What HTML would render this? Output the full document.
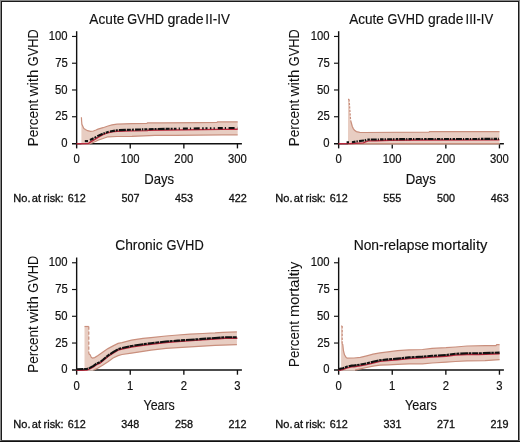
<!DOCTYPE html>
<html><head><meta charset="utf-8"><title>GVHD cumulative incidence</title>
<style>
html,body{margin:0;padding:0;background:#fff;}
body{width:520px;height:442px;overflow:hidden;}
svg{display:block;will-change:transform;}
</style></head>
<body>
<svg width="520" height="442" viewBox="0 0 520 442" font-family='"Liberation Sans", sans-serif'>
<rect x="0" y="0" width="520" height="442" fill="#fff"/>
<g stroke="#111" fill="none">
<path d="M76.65,31.20V148.40" stroke-width="1.4"/>
<path d="M72.00,143.75H241.90" stroke-width="1.5"/>
<path d="M72.00,116.74H76.65" stroke-width="1.15"/>
<path d="M72.00,89.98H76.65" stroke-width="1.15"/>
<path d="M72.00,63.22H76.65" stroke-width="1.15"/>
<path d="M72.00,36.46H76.65" stroke-width="1.15"/>
<path d="M130.25,143.75V148.40" stroke-width="1.35"/>
<path d="M183.85,143.75V148.40" stroke-width="1.35"/>
<path d="M237.45,143.75V148.40" stroke-width="1.35"/>
</g>
<polygon points="81.4,144.5 81.4,117.3 81.6,121.0 81.9,124.3 82.8,126.3 83.8,128.4 85.4,129.6 87.6,130.7 90.5,131.4 93.4,131.0 96.0,130.0 98.0,129.1 103.0,127.7 108.0,126.0 112.0,124.9 117.0,124.2 132.0,123.6 147.0,123.3 147.5,122.9 161.0,122.9 200.0,122.6 217.0,122.4 217.5,121.9 237.7,121.8 237.7,134.8 222.0,134.8 176.0,135.3 155.0,135.4 132.0,136.3 117.0,136.5 108.0,136.8 103.0,138.5 98.0,140.3 96.0,141.3 92.0,143.0 89.5,143.6 89.5,144.5" fill="#e8cdc2" stroke="none"/>
<polyline points="81.4,117.3 81.6,121.0 81.9,124.3 82.8,126.3 83.8,128.4 85.4,129.6 87.6,130.7 90.5,131.4 93.4,131.0 96.0,130.0 98.0,129.1 103.0,127.7 108.0,126.0 112.0,124.9 117.0,124.2 132.0,123.6 147.0,123.3 147.5,122.9 161.0,122.9 200.0,122.6 217.0,122.4 217.5,121.9 237.7,121.8" fill="none" stroke="#c98f7d" stroke-width="1.2"/>
<polyline points="237.7,134.8 222.0,134.8 176.0,135.3 155.0,135.4 132.0,136.3 117.0,136.5 108.0,136.8 103.0,138.5 98.0,140.3 96.0,141.3 92.0,143.0 89.5,143.6" fill="none" stroke="#c98f7d" stroke-width="1.2"/>
<polyline points="76.5,143.7 88.5,143.5 89.8,142.3 94.5,139.6 98.0,137.3 103.0,134.7 108.0,132.7 112.0,131.8 117.0,131.3 132.0,130.9 147.5,130.6 148.0,130.2 222.0,129.4 237.7,129.3" fill="none" stroke="#b8283c" stroke-width="1.4"/>
<polyline points="90.0,140.0 94.5,137.8 98.0,135.9 100.0,135.0 103.0,133.6 108.0,131.9 117.0,130.2 155.0,129.0 175.0,128.7" fill="none" stroke="#111" stroke-width="2.1" stroke-dasharray="4 1 2 1.2 6 0.8 1.5 1 3 1.3 5 0.9 2 1.1 7 1"/>
<polyline points="175.0,128.7 237.3,127.9" fill="none" stroke="#111" stroke-width="2.1" stroke-dasharray="1.5 2.2 1.2 3 5 2 1.2 2.6 6 2.5 1.5 1.8 2 2.4"/>
<polyline points="84.8,141.1 88.0,141.1" fill="none" stroke="#111" stroke-width="2.1"/>
<g stroke="#111" fill="none">
<path d="M338.65,31.20V148.40" stroke-width="1.4"/>
<path d="M334.00,143.75H503.90" stroke-width="1.5"/>
<path d="M334.00,116.74H338.65" stroke-width="1.15"/>
<path d="M334.00,89.98H338.65" stroke-width="1.15"/>
<path d="M334.00,63.22H338.65" stroke-width="1.15"/>
<path d="M334.00,36.46H338.65" stroke-width="1.15"/>
<path d="M392.25,143.75V148.40" stroke-width="1.35"/>
<path d="M445.85,143.75V148.40" stroke-width="1.35"/>
<path d="M499.45,143.75V148.40" stroke-width="1.35"/>
</g>
<polygon points="348.0,144.5 348.0,99.4 349.1,99.4 350.6,120.5 350.8,121.0 351.5,123.5 352.3,126.5 353.3,128.6 354.5,130.2 356.4,131.6 359.8,132.4 364.0,132.5 429.0,132.2 429.5,131.7 499.5,131.6 499.5,144.5 348.0,144.5" fill="#e8cdc2" stroke="none"/>
<polyline points="348.0,99.4 349.1,99.4" fill="none" stroke="#c98f7d" stroke-width="1.2"/>
<polyline points="349.1,99.4 350.6,120.5" fill="none" stroke="#c98f7d" stroke-width="1.2" stroke-dasharray="2.2 1.3"/>
<polyline points="350.6,120.5 350.8,121.0 351.5,123.5 352.3,126.5 353.3,128.6 354.5,130.2 356.4,131.6 359.8,132.4 364.0,132.5 429.0,132.2 429.5,131.7 499.5,131.6" fill="none" stroke="#c98f7d" stroke-width="1.2"/>
<polyline points="499.5,143.6 348.0,143.6" fill="none" stroke="#c98f7d" stroke-width="1.2"/>
<polyline points="338.5,143.7 351.0,143.5 363.5,142.9 365.5,141.9 368.4,140.9 376.0,140.7 390.0,140.3 420.0,140.0 499.5,139.9" fill="none" stroke="#b8283c" stroke-width="1.4"/>
<polyline points="352.0,142.2 356.0,141.5 365.0,140.4 366.5,139.6 376.0,139.5 390.0,139.2 420.0,139.0 499.0,138.9" fill="none" stroke="#111" stroke-width="2.1" stroke-dasharray="3.5 1.0 1.4 1.2 5.0 0.8 1.5 1.3 2.5 0.9 6.0 1.0 1.2 1.1"/>
<polyline points="346.6,142.3 349.0,142.3" fill="none" stroke="#111" stroke-width="2.1"/>
<g stroke="#111" fill="none">
<path d="M76.65,257.50V374.70" stroke-width="1.4"/>
<path d="M72.00,370.05H241.90" stroke-width="1.5"/>
<path d="M72.00,343.04H76.65" stroke-width="1.15"/>
<path d="M72.00,316.28H76.65" stroke-width="1.15"/>
<path d="M72.00,289.52H76.65" stroke-width="1.15"/>
<path d="M72.00,262.76H76.65" stroke-width="1.15"/>
<path d="M130.25,370.05V374.70" stroke-width="1.35"/>
<path d="M183.85,370.05V374.70" stroke-width="1.35"/>
<path d="M237.45,370.05V374.70" stroke-width="1.35"/>
</g>
<polygon points="84.5,370.8 84.5,326.5 88.8,326.5 88.8,353.7 90.2,354.8 91.3,357.4 92.4,358.0 94.7,357.6 98.0,355.6 103.0,352.0 108.0,348.6 113.1,345.9 118.1,343.4 122.0,342.6 131.5,340.1 143.0,338.4 151.0,337.6 166.0,336.0 178.0,335.0 190.0,334.2 202.6,333.5 215.0,332.9 223.0,332.3 236.9,331.9 236.9,344.7 215.0,345.4 202.6,346.2 190.3,346.9 178.0,347.6 166.0,348.3 151.0,350.1 143.0,351.4 131.5,353.2 122.0,354.5 118.1,355.6 113.1,358.0 108.0,361.8 103.0,365.1 98.0,368.0 93.6,370.1 93.6,370.8" fill="#e8cdc2" stroke="none"/>
<polyline points="84.5,326.5 88.8,326.5" fill="none" stroke="#c98f7d" stroke-width="1.2"/>
<polyline points="88.8,326.5 88.8,353.7" fill="none" stroke="#c98f7d" stroke-width="1.2" stroke-dasharray="3.2 1.8"/>
<polyline points="88.8,353.7 90.2,354.8 91.3,357.4 92.4,358.0 94.7,357.6 98.0,355.6 103.0,352.0 108.0,348.6 113.1,345.9 118.1,343.4 122.0,342.6 131.5,340.1 143.0,338.4 151.0,337.6 166.0,336.0 178.0,335.0 190.0,334.2 202.6,333.5 215.0,332.9 223.0,332.3 236.9,331.9" fill="none" stroke="#c98f7d" stroke-width="1.2"/>
<polyline points="236.9,344.7 215.0,345.4 202.6,346.2 190.3,346.9 178.0,347.6 166.0,348.3 151.0,350.1 143.0,351.4 131.5,353.2 122.0,354.5 118.1,355.6 113.1,358.0 108.0,361.8 103.0,365.1 98.0,368.0 93.6,370.1" fill="none" stroke="#c98f7d" stroke-width="1.2"/>
<polyline points="76.5,370.2 86.8,370.0 89.8,368.9 93.5,366.8 96.8,364.5 100.0,363.1 103.0,360.7 108.0,356.5 113.1,353.2 118.1,350.2 122.0,349.0 131.5,347.0 143.0,345.2 151.0,344.2 166.0,342.5 178.0,341.6 202.6,339.9 215.0,339.0 225.0,338.3 237.4,338.2" fill="none" stroke="#b8283c" stroke-width="1.4"/>
<polyline points="76.5,369.2 86.8,369.0 89.8,367.9 93.5,365.8 96.8,363.5 100.0,362.1 103.0,359.7 108.0,355.5 113.1,352.2 118.1,349.2 122.0,348.0 131.5,346.0 143.0,344.2 151.0,343.2 166.0,341.5 178.0,340.6 202.6,338.9 215.0,338.0 225.0,337.3 237.4,337.2" fill="none" stroke="#111" stroke-width="2.1" stroke-dasharray="7 0.6 4 0.8 9 0.6 3 0.9"/>
<g stroke="#111" fill="none">
<path d="M338.65,257.50V374.70" stroke-width="1.4"/>
<path d="M334.00,370.05H503.90" stroke-width="1.5"/>
<path d="M334.00,343.04H338.65" stroke-width="1.15"/>
<path d="M334.00,316.28H338.65" stroke-width="1.15"/>
<path d="M334.00,289.52H338.65" stroke-width="1.15"/>
<path d="M334.00,262.76H338.65" stroke-width="1.15"/>
<path d="M392.25,370.05V374.70" stroke-width="1.35"/>
<path d="M445.85,370.05V374.70" stroke-width="1.35"/>
<path d="M499.45,370.05V374.70" stroke-width="1.35"/>
</g>
<polygon points="341.1,370.8 341.1,326.0 342.2,326.0 342.2,343.5 342.8,344.6 343.4,350.3 344.5,354.8 346.2,357.6 347.3,358.2 354.0,358.0 360.3,357.4 366.7,355.8 373.0,354.2 380.0,352.9 388.0,351.9 397.5,350.7 409.0,349.9 422.5,349.5 432.0,348.4 446.0,347.7 455.5,347.0 467.0,346.0 485.0,345.7 496.0,345.6 496.7,344.7 499.6,344.7 499.6,359.6 485.0,360.7 467.0,360.8 455.5,361.5 446.0,362.2 432.1,363.0 422.5,363.8 409.0,363.9 397.5,364.3 388.0,364.8 380.0,365.2 373.0,366.2 366.7,367.5 360.3,368.8 355.0,370.1 355.0,370.8" fill="#e8cdc2" stroke="none"/>
<polyline points="341.1,326.0 342.2,326.0" fill="none" stroke="#c98f7d" stroke-width="1.2"/>
<polyline points="342.2,326.0 342.2,343.5" fill="none" stroke="#c98f7d" stroke-width="1.2" stroke-dasharray="2.6 1.2"/>
<polyline points="342.2,343.5 342.8,344.6 343.4,350.3 344.5,354.8 346.2,357.6 347.3,358.2 354.0,358.0 360.3,357.4 366.7,355.8 373.0,354.2 380.0,352.9 388.0,351.9 397.5,350.7 409.0,349.9 422.5,349.5 432.0,348.4 446.0,347.7 455.5,347.0 467.0,346.0 485.0,345.7 496.0,345.6 496.7,344.7 499.6,344.7" fill="none" stroke="#c98f7d" stroke-width="1.2"/>
<polyline points="499.6,359.6 485.0,360.7 467.0,360.8 455.5,361.5 446.0,362.2 432.1,363.0 422.5,363.8 409.0,363.9 397.5,364.3 388.0,364.8 380.0,365.2 373.0,366.2 366.7,367.5 360.3,368.8 355.0,370.1" fill="none" stroke="#c98f7d" stroke-width="1.2"/>
<polyline points="338.5,370.3 342.8,369.5 347.3,367.8 351.8,366.8 354.0,366.7 360.3,365.8 366.7,364.6 373.0,363.0 380.0,361.4 388.0,360.6 397.5,359.8 409.0,358.6 422.5,357.8 432.1,357.0 446.0,356.2 455.5,355.0 467.0,354.5 478.6,354.5 499.6,353.8" fill="none" stroke="#b8283c" stroke-width="1.4"/>
<polyline points="338.5,369.1 342.8,368.3 347.3,366.6 351.8,365.6 354.0,365.5 360.3,364.6 366.7,363.4 373.0,361.8 380.0,360.2 388.0,359.4 397.5,358.6 409.0,357.4 422.5,356.6 432.1,355.8 446.0,355.0 455.5,353.8 467.0,353.3 478.6,353.3 499.6,352.6" fill="none" stroke="#111" stroke-width="2.1" stroke-dasharray="6 0.7 3 0.9 8 0.6 2.5 0.8"/>
<g fill="#111">
<text x="89.37" y="23.80" font-size="14.5" textLength="34.94" lengthAdjust="spacingAndGlyphs" stroke="#111" stroke-width="0.15">Acute</text>
<text x="127.16" y="23.80" font-size="14.5" textLength="36.83" lengthAdjust="spacingAndGlyphs" stroke="#111" stroke-width="0.15">GVHD</text>
<text x="167.40" y="23.80" font-size="14.5" textLength="36.31" lengthAdjust="spacingAndGlyphs" stroke="#111" stroke-width="0.15">grade</text>
<text x="205.26" y="23.80" font-size="14.5" textLength="24.59" lengthAdjust="spacingAndGlyphs" stroke="#111" stroke-width="0.15">II-IV</text>
<text transform="translate(37.70,0) rotate(-90)" x="-146.31" y="0" font-size="14.5" textLength="46.43" lengthAdjust="spacingAndGlyphs" stroke="#111" stroke-width="0.05">Percent</text>
<text transform="translate(37.70,0) rotate(-90)" x="-96.56" y="0" font-size="14.5" textLength="27.03" lengthAdjust="spacingAndGlyphs" stroke="#111" stroke-width="0.05">with</text>
<text transform="translate(37.70,0) rotate(-90)" x="-66.14" y="0" font-size="14.5" textLength="36.83" lengthAdjust="spacingAndGlyphs" stroke="#111" stroke-width="0.05">GVHD</text>
<text x="144.22" y="183.70" font-size="14.1" textLength="29.85" lengthAdjust="spacingAndGlyphs" stroke="#111" stroke-width="0.15">Days</text>
<text x="61.36" y="147.10" font-size="12" textLength="6.27" lengthAdjust="spacingAndGlyphs" stroke="#111" stroke-width="0.2">0</text>
<text x="55.13" y="120.34" font-size="12" textLength="12.55" lengthAdjust="spacingAndGlyphs" stroke="#111" stroke-width="0.2">25</text>
<text x="55.10" y="93.58" font-size="12" textLength="12.55" lengthAdjust="spacingAndGlyphs" stroke="#111" stroke-width="0.2">50</text>
<text x="55.13" y="66.82" font-size="12" textLength="12.55" lengthAdjust="spacingAndGlyphs" stroke="#111" stroke-width="0.2">75</text>
<text x="48.81" y="40.06" font-size="12" textLength="18.82" lengthAdjust="spacingAndGlyphs" stroke="#111" stroke-width="0.2">100</text>
<text x="73.51" y="163.20" font-size="12" textLength="6.27" lengthAdjust="spacingAndGlyphs" stroke="#111" stroke-width="0.2">0</text>
<text x="120.63" y="163.20" font-size="12" textLength="18.82" lengthAdjust="spacingAndGlyphs" stroke="#111" stroke-width="0.2">100</text>
<text x="174.37" y="163.20" font-size="12" textLength="18.82" lengthAdjust="spacingAndGlyphs" stroke="#111" stroke-width="0.2">200</text>
<text x="228.05" y="163.20" font-size="12" textLength="18.82" lengthAdjust="spacingAndGlyphs" stroke="#111" stroke-width="0.2">300</text>
<text x="13.39" y="201.60" font-size="10.5" textLength="17.22" lengthAdjust="spacingAndGlyphs" stroke="#111" stroke-width="0.3">No.</text>
<text x="31.73" y="201.60" font-size="10.5" textLength="9.27" lengthAdjust="spacingAndGlyphs" stroke="#111" stroke-width="0.3">at</text>
<text x="43.59" y="201.60" font-size="10.5" textLength="20.00" lengthAdjust="spacingAndGlyphs" stroke="#111" stroke-width="0.3">risk:</text>
<text x="67.75" y="201.80" font-size="10.8" textLength="18.02" lengthAdjust="spacingAndGlyphs" stroke="#111" stroke-width="0.3">612</text>
<text x="121.40" y="201.80" font-size="10.8" textLength="18.02" lengthAdjust="spacingAndGlyphs" stroke="#111" stroke-width="0.3">507</text>
<text x="175.05" y="201.80" font-size="10.8" textLength="18.02" lengthAdjust="spacingAndGlyphs" stroke="#111" stroke-width="0.3">453</text>
<text x="228.69" y="201.80" font-size="10.8" textLength="18.02" lengthAdjust="spacingAndGlyphs" stroke="#111" stroke-width="0.3">422</text>
</g>
<g fill="#111">
<text x="349.17" y="23.80" font-size="14.5" textLength="34.74" lengthAdjust="spacingAndGlyphs" stroke="#111" stroke-width="0.15">Acute</text>
<text x="387.46" y="23.80" font-size="14.5" textLength="36.73" lengthAdjust="spacingAndGlyphs" stroke="#111" stroke-width="0.15">GVHD</text>
<text x="428.01" y="23.80" font-size="14.5" textLength="35.38" lengthAdjust="spacingAndGlyphs" stroke="#111" stroke-width="0.15">grade</text>
<text x="465.59" y="23.80" font-size="14.5" textLength="27.56" lengthAdjust="spacingAndGlyphs" stroke="#111" stroke-width="0.15">III-IV</text>
<text transform="translate(299.30,0) rotate(-90)" x="-146.31" y="0" font-size="14.5" textLength="46.43" lengthAdjust="spacingAndGlyphs" stroke="#111" stroke-width="0.05">Percent</text>
<text transform="translate(299.30,0) rotate(-90)" x="-96.56" y="0" font-size="14.5" textLength="27.03" lengthAdjust="spacingAndGlyphs" stroke="#111" stroke-width="0.05">with</text>
<text transform="translate(299.30,0) rotate(-90)" x="-66.14" y="0" font-size="14.5" textLength="36.83" lengthAdjust="spacingAndGlyphs" stroke="#111" stroke-width="0.05">GVHD</text>
<text x="405.71" y="183.70" font-size="14.1" textLength="30.06" lengthAdjust="spacingAndGlyphs" stroke="#111" stroke-width="0.15">Days</text>
<text x="323.36" y="147.10" font-size="12" textLength="6.27" lengthAdjust="spacingAndGlyphs" stroke="#111" stroke-width="0.2">0</text>
<text x="317.13" y="120.34" font-size="12" textLength="12.55" lengthAdjust="spacingAndGlyphs" stroke="#111" stroke-width="0.2">25</text>
<text x="317.10" y="93.58" font-size="12" textLength="12.55" lengthAdjust="spacingAndGlyphs" stroke="#111" stroke-width="0.2">50</text>
<text x="317.13" y="66.82" font-size="12" textLength="12.55" lengthAdjust="spacingAndGlyphs" stroke="#111" stroke-width="0.2">75</text>
<text x="310.81" y="40.06" font-size="12" textLength="18.82" lengthAdjust="spacingAndGlyphs" stroke="#111" stroke-width="0.2">100</text>
<text x="335.51" y="163.20" font-size="12" textLength="6.27" lengthAdjust="spacingAndGlyphs" stroke="#111" stroke-width="0.2">0</text>
<text x="382.63" y="163.20" font-size="12" textLength="18.82" lengthAdjust="spacingAndGlyphs" stroke="#111" stroke-width="0.2">100</text>
<text x="436.37" y="163.20" font-size="12" textLength="18.82" lengthAdjust="spacingAndGlyphs" stroke="#111" stroke-width="0.2">200</text>
<text x="490.05" y="163.20" font-size="12" textLength="18.82" lengthAdjust="spacingAndGlyphs" stroke="#111" stroke-width="0.2">300</text>
<text x="275.39" y="201.60" font-size="10.5" textLength="17.22" lengthAdjust="spacingAndGlyphs" stroke="#111" stroke-width="0.3">No.</text>
<text x="293.73" y="201.60" font-size="10.5" textLength="9.27" lengthAdjust="spacingAndGlyphs" stroke="#111" stroke-width="0.3">at</text>
<text x="305.59" y="201.60" font-size="10.5" textLength="20.00" lengthAdjust="spacingAndGlyphs" stroke="#111" stroke-width="0.3">risk:</text>
<text x="329.75" y="201.80" font-size="10.8" textLength="18.02" lengthAdjust="spacingAndGlyphs" stroke="#111" stroke-width="0.3">612</text>
<text x="383.35" y="201.80" font-size="10.8" textLength="18.02" lengthAdjust="spacingAndGlyphs" stroke="#111" stroke-width="0.3">555</text>
<text x="436.93" y="201.80" font-size="10.8" textLength="18.02" lengthAdjust="spacingAndGlyphs" stroke="#111" stroke-width="0.3">500</text>
<text x="490.65" y="201.80" font-size="10.8" textLength="18.02" lengthAdjust="spacingAndGlyphs" stroke="#111" stroke-width="0.3">463</text>
</g>
<g fill="#111">
<text x="115.31" y="250.00" font-size="14.5" textLength="47.38" lengthAdjust="spacingAndGlyphs" stroke="#111" stroke-width="0.15">Chronic</text>
<text x="166.56" y="250.00" font-size="14.5" textLength="37.14" lengthAdjust="spacingAndGlyphs" stroke="#111" stroke-width="0.15">GVHD</text>
<text transform="translate(37.70,0) rotate(-90)" x="-372.81" y="0" font-size="14.5" textLength="46.43" lengthAdjust="spacingAndGlyphs" stroke="#111" stroke-width="0.05">Percent</text>
<text transform="translate(37.70,0) rotate(-90)" x="-323.06" y="0" font-size="14.5" textLength="27.03" lengthAdjust="spacingAndGlyphs" stroke="#111" stroke-width="0.05">with</text>
<text transform="translate(37.70,0) rotate(-90)" x="-292.64" y="0" font-size="14.5" textLength="36.83" lengthAdjust="spacingAndGlyphs" stroke="#111" stroke-width="0.05">GVHD</text>
<text x="143.52" y="409.60" font-size="14.1" textLength="31.32" lengthAdjust="spacingAndGlyphs" stroke="#111" stroke-width="0.15">Years</text>
<text x="61.36" y="373.40" font-size="12" textLength="6.27" lengthAdjust="spacingAndGlyphs" stroke="#111" stroke-width="0.2">0</text>
<text x="55.13" y="346.64" font-size="12" textLength="12.55" lengthAdjust="spacingAndGlyphs" stroke="#111" stroke-width="0.2">25</text>
<text x="55.10" y="319.88" font-size="12" textLength="12.55" lengthAdjust="spacingAndGlyphs" stroke="#111" stroke-width="0.2">50</text>
<text x="55.13" y="293.12" font-size="12" textLength="12.55" lengthAdjust="spacingAndGlyphs" stroke="#111" stroke-width="0.2">75</text>
<text x="48.81" y="266.36" font-size="12" textLength="18.82" lengthAdjust="spacingAndGlyphs" stroke="#111" stroke-width="0.2">100</text>
<text x="73.51" y="389.50" font-size="12" textLength="6.27" lengthAdjust="spacingAndGlyphs" stroke="#111" stroke-width="0.2">0</text>
<text x="126.96" y="389.50" font-size="12" textLength="6.27" lengthAdjust="spacingAndGlyphs" stroke="#111" stroke-width="0.2">1</text>
<text x="180.72" y="389.50" font-size="12" textLength="6.27" lengthAdjust="spacingAndGlyphs" stroke="#111" stroke-width="0.2">2</text>
<text x="234.35" y="389.50" font-size="12" textLength="6.27" lengthAdjust="spacingAndGlyphs" stroke="#111" stroke-width="0.2">3</text>
<text x="13.39" y="427.90" font-size="10.5" textLength="17.22" lengthAdjust="spacingAndGlyphs" stroke="#111" stroke-width="0.3">No.</text>
<text x="31.73" y="427.90" font-size="10.5" textLength="9.27" lengthAdjust="spacingAndGlyphs" stroke="#111" stroke-width="0.3">at</text>
<text x="43.59" y="427.90" font-size="10.5" textLength="20.00" lengthAdjust="spacingAndGlyphs" stroke="#111" stroke-width="0.3">risk:</text>
<text x="67.75" y="428.10" font-size="10.8" textLength="18.02" lengthAdjust="spacingAndGlyphs" stroke="#111" stroke-width="0.3">612</text>
<text x="121.37" y="428.10" font-size="10.8" textLength="18.02" lengthAdjust="spacingAndGlyphs" stroke="#111" stroke-width="0.3">348</text>
<text x="174.91" y="428.10" font-size="10.8" textLength="18.02" lengthAdjust="spacingAndGlyphs" stroke="#111" stroke-width="0.3">258</text>
<text x="228.55" y="428.10" font-size="10.8" textLength="18.02" lengthAdjust="spacingAndGlyphs" stroke="#111" stroke-width="0.3">212</text>
</g>
<g fill="#111">
<text x="353.66" y="250.00" font-size="14.5" textLength="75.43" lengthAdjust="spacingAndGlyphs" stroke="#111" stroke-width="0.15">Non-relapse</text>
<text x="431.71" y="250.00" font-size="14.5" textLength="55.64" lengthAdjust="spacingAndGlyphs" stroke="#111" stroke-width="0.15">mortality</text>
<text transform="translate(299.20,0) rotate(-90)" x="-367.00" y="0" font-size="14.5" textLength="46.02" lengthAdjust="spacingAndGlyphs" stroke="#111" stroke-width="0.05">Percent</text>
<text transform="translate(299.20,0) rotate(-90)" x="-316.99" y="0" font-size="14.5" textLength="55.24" lengthAdjust="spacingAndGlyphs" stroke="#111" stroke-width="0.05">mortaltiy</text>
<text x="405.02" y="409.60" font-size="14.1" textLength="31.83" lengthAdjust="spacingAndGlyphs" stroke="#111" stroke-width="0.15">Years</text>
<text x="323.36" y="373.40" font-size="12" textLength="6.27" lengthAdjust="spacingAndGlyphs" stroke="#111" stroke-width="0.2">0</text>
<text x="317.13" y="346.64" font-size="12" textLength="12.55" lengthAdjust="spacingAndGlyphs" stroke="#111" stroke-width="0.2">25</text>
<text x="317.10" y="319.88" font-size="12" textLength="12.55" lengthAdjust="spacingAndGlyphs" stroke="#111" stroke-width="0.2">50</text>
<text x="317.13" y="293.12" font-size="12" textLength="12.55" lengthAdjust="spacingAndGlyphs" stroke="#111" stroke-width="0.2">75</text>
<text x="310.81" y="266.36" font-size="12" textLength="18.82" lengthAdjust="spacingAndGlyphs" stroke="#111" stroke-width="0.2">100</text>
<text x="335.51" y="389.50" font-size="12" textLength="6.27" lengthAdjust="spacingAndGlyphs" stroke="#111" stroke-width="0.2">0</text>
<text x="388.96" y="389.50" font-size="12" textLength="6.27" lengthAdjust="spacingAndGlyphs" stroke="#111" stroke-width="0.2">1</text>
<text x="442.72" y="389.50" font-size="12" textLength="6.27" lengthAdjust="spacingAndGlyphs" stroke="#111" stroke-width="0.2">2</text>
<text x="496.35" y="389.50" font-size="12" textLength="6.27" lengthAdjust="spacingAndGlyphs" stroke="#111" stroke-width="0.2">3</text>
<text x="275.39" y="427.90" font-size="10.5" textLength="17.22" lengthAdjust="spacingAndGlyphs" stroke="#111" stroke-width="0.3">No.</text>
<text x="293.73" y="427.90" font-size="10.5" textLength="9.27" lengthAdjust="spacingAndGlyphs" stroke="#111" stroke-width="0.3">at</text>
<text x="305.59" y="427.90" font-size="10.5" textLength="20.00" lengthAdjust="spacingAndGlyphs" stroke="#111" stroke-width="0.3">risk:</text>
<text x="329.75" y="428.10" font-size="10.8" textLength="18.02" lengthAdjust="spacingAndGlyphs" stroke="#111" stroke-width="0.3">612</text>
<text x="383.40" y="428.10" font-size="10.8" textLength="18.02" lengthAdjust="spacingAndGlyphs" stroke="#111" stroke-width="0.3">331</text>
<text x="436.93" y="428.10" font-size="10.8" textLength="18.02" lengthAdjust="spacingAndGlyphs" stroke="#111" stroke-width="0.3">271</text>
<text x="490.52" y="428.10" font-size="10.8" textLength="18.02" lengthAdjust="spacingAndGlyphs" stroke="#111" stroke-width="0.3">219</text>
</g>
<g>
<rect x="0" y="0" width="520" height="1" fill="#888"/>
<rect x="0" y="0" width="1" height="442" fill="#888"/>
<rect x="519" y="0" width="1" height="441" fill="#888"/>
<rect x="1" y="1" width="518" height="1" fill="#1a1a1a"/>
<rect x="1" y="1" width="1" height="440" fill="#1a1a1a"/>
<rect x="518" y="1" width="1" height="440" fill="#1a1a1a"/>
<rect x="1" y="440" width="518" height="1" fill="#4a4a4a"/>
<rect x="0" y="441" width="520" height="1" fill="#111"/>
</g>
</svg>
</body></html>
